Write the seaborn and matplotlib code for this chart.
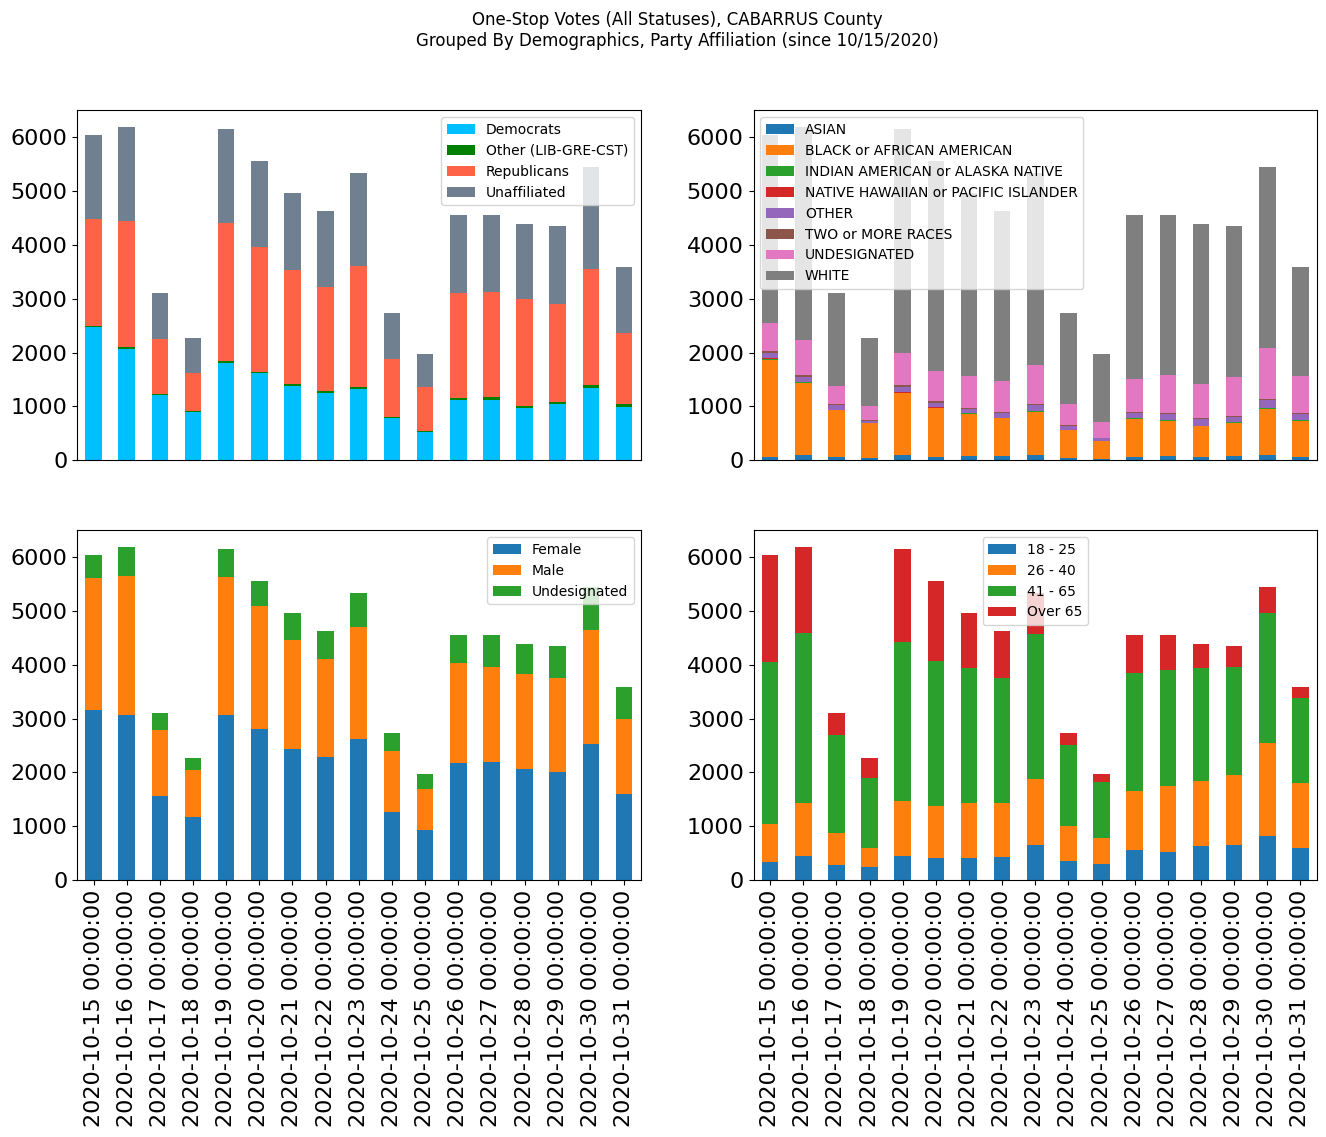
import matplotlib
matplotlib.use("Agg")
import matplotlib.pyplot as plt
from matplotlib.patches import Patch
import numpy as np
import pandas as pd
import seaborn as sns

dates = ["2020-10-15 00:00:00", "2020-10-16 00:00:00", "2020-10-17 00:00:00", "2020-10-18 00:00:00",
         "2020-10-19 00:00:00", "2020-10-20 00:00:00", "2020-10-21 00:00:00", "2020-10-22 00:00:00",
         "2020-10-23 00:00:00", "2020-10-24 00:00:00", "2020-10-25 00:00:00", "2020-10-26 00:00:00",
         "2020-10-27 00:00:00", "2020-10-28 00:00:00", "2020-10-29 00:00:00", "2020-10-30 00:00:00",
         "2020-10-31 00:00:00"]

# Party affiliation
party_labels = ["Democrats", "Other (LIB-GRE-CST)", "Republicans", "Unaffiliated"]
democrats = [2474, 2071, 1215, 899, 1804, 1624, 1383, 1246, 1321, 787, 527, 1122, 1122, 973, 1048, 1345, 992]
other_party = [19, 31, 19, 12, 37, 19, 37, 37, 37, 19, 19, 37, 50, 37, 37, 50, 56]
republicans = [1989, 2343, 1016, 707, 2567, 2319, 2114, 1935, 2250, 1072, 812, 1947, 1953, 1984, 1816, 2157, 1314]
unaffiliated = [1563, 1748, 856, 651, 1748, 1599, 1432, 1413, 1730, 856, 613, 1451, 1432, 1395, 1451, 1898, 1228]
party_colors = ["#00BFFF", "#008000", "#FF6347", "#708090"]

# Race
race_labels = ["ASIAN", "BLACK or AFRICAN AMERICAN", "INDIAN AMERICAN or ALASKA NATIVE",
               "NATIVE HAWAIIAN or PACIFIC ISLANDER", "OTHER", "TWO or MORE RACES",
               "UNDESIGNATED", "WHITE"]
asian = [56, 93, 56, 37, 93, 56, 74, 74, 93, 37, 19, 56, 74, 56, 74, 93, 56]
black = [1810, 1339, 874, 651, 1153, 911, 782, 707, 800, 521, 334, 707, 651, 576, 614, 856, 669]
indian = [19, 19, 6, 6, 6, 6, 19, 6, 19, 6, 6, 19, 19, 6, 19, 19, 19]
hawaiian = [6, 6, 3, 3, 6, 6, 3, 3, 6, 3, 3, 3, 3, 3, 3, 6, 3]
other_race = [100, 93, 87, 31, 105, 87, 68, 87, 105, 68, 50, 87, 105, 125, 87, 142, 105]
two_more = [37, 37, 19, 19, 25, 37, 18, 12, 12, 19, 6, 19, 18, 12, 18, 19, 18]
undesig_race = [521, 651, 334, 260, 607, 558, 595, 583, 732, 391, 292, 614, 707, 639, 726, 948, 688]
white = [3496, 3955, 1727, 1262, 4161, 3900, 3404, 3162, 3571, 1689, 1261, 3051, 2976, 2972, 2808, 3365, 2028]
race_colors = ["#1f77b4", "#ff7f0e", "#2ca02c", "#d62728", "#9467bd", "#8c564b", "#e377c2", "#7f7f7f"]

# Gender
gender_labels = ["Female", "Male", "Undesignated"]
female = [3162, 3069, 1562, 1172, 3069, 2808, 2436, 2288, 2622, 1265, 930, 2176, 2195, 2064, 2009, 2529, 1600]
male = [2455, 2585, 1228, 874, 2567, 2288, 2028, 1822, 2084, 1134, 763, 1860, 1767, 1767, 1748, 2121, 1394]
undesig_gender = [428, 539, 316, 223, 520, 465, 502, 521, 632, 335, 278, 521, 595, 558, 595, 800, 596]
gender_colors = ["#1f77b4", "#ff7f0e", "#2ca02c"]

# Age
age_labels = ["18 - 25", "26 - 40", "41 - 65", "Over 65"]
age_18_25 = [335, 446, 279, 242, 446, 409, 409, 428, 651, 353, 298, 558, 521, 632, 651, 818, 595]
age_26_40 = [707, 986, 595, 353, 1023, 967, 1023, 1004, 1227, 651, 483, 1097, 1227, 1209, 1302, 1730, 1209]
age_41_65 = [3013, 3162, 1823, 1302, 2958, 2697, 2511, 2325, 2697, 1507, 1042, 2195, 2158, 2102, 2009, 2418, 1581]
age_over_65 = [1990, 1599, 409, 372, 1729, 1488, 1023, 874, 763, 223, 148, 707, 651, 446, 390, 484, 205]
age_colors = ["#1f77b4", "#ff7f0e", "#2ca02c", "#d62728"]


def stacked(ax, series, labels, colors, legend_loc):
    arr = np.array(series, dtype=float)
    cum = np.cumsum(arr, axis=0)
    # draw from the top layer down so lower layers overlay
    for i in range(len(series) - 1, -1, -1):
        df = pd.DataFrame({"date": dates, "value": cum[i]})
        sns.barplot(data=df, x="date", y="value", color=colors[i], width=0.5,
                    saturation=1, linewidth=0, errorbar=None, ax=ax)
    ax.set_xlim(-0.5, len(dates) - 0.5)
    ax.set_xlabel("")
    ax.set_ylabel("")
    ax.set_yticks([0, 1000, 2000, 3000, 4000, 5000, 6000])
    ax.tick_params(axis="y", labelsize=16)
    handles = [Patch(facecolor=c, label=l) for c, l in zip(colors, labels)]
    ax.legend(handles=handles, loc=legend_loc, fontsize=10)


fig, axes = plt.subplots(2, 2, figsize=(13.26, 11.37), dpi=100)
fig.subplots_adjust(left=0.0581, right=0.9932, top=0.903, bottom=0.226, wspace=0.2005, hspace=0.2)

stacked(axes[0, 0], [democrats, other_party, republicans, unaffiliated], party_labels, party_colors, "upper right")
stacked(axes[0, 1], [asian, black, indian, hawaiian, other_race, two_more, undesig_race, white],
        race_labels, race_colors, "upper left")
stacked(axes[1, 0], [female, male, undesig_gender], gender_labels, gender_colors, "upper right")
stacked(axes[1, 1], [age_18_25, age_26_40, age_41_65, age_over_65], age_labels, age_colors, "upper center")

for a in axes.flat:
    a.set_ylim(0, 6193 * 1.05)

for a in axes[0]:
    a.tick_params(axis="x", bottom=False, labelbottom=False)
for a in axes[1]:
    a.set_xticks(range(len(dates)))
    a.set_xticklabels(dates, rotation=90, fontsize=16)

fig.suptitle("One-Stop Votes (All Statuses), CABARRUS County\nGrouped By Demographics, Party Affiliation (since 10/15/2020)",
             fontsize=12, x=0.511, y=0.99)

fig.savefig("out.png", dpi=100)
